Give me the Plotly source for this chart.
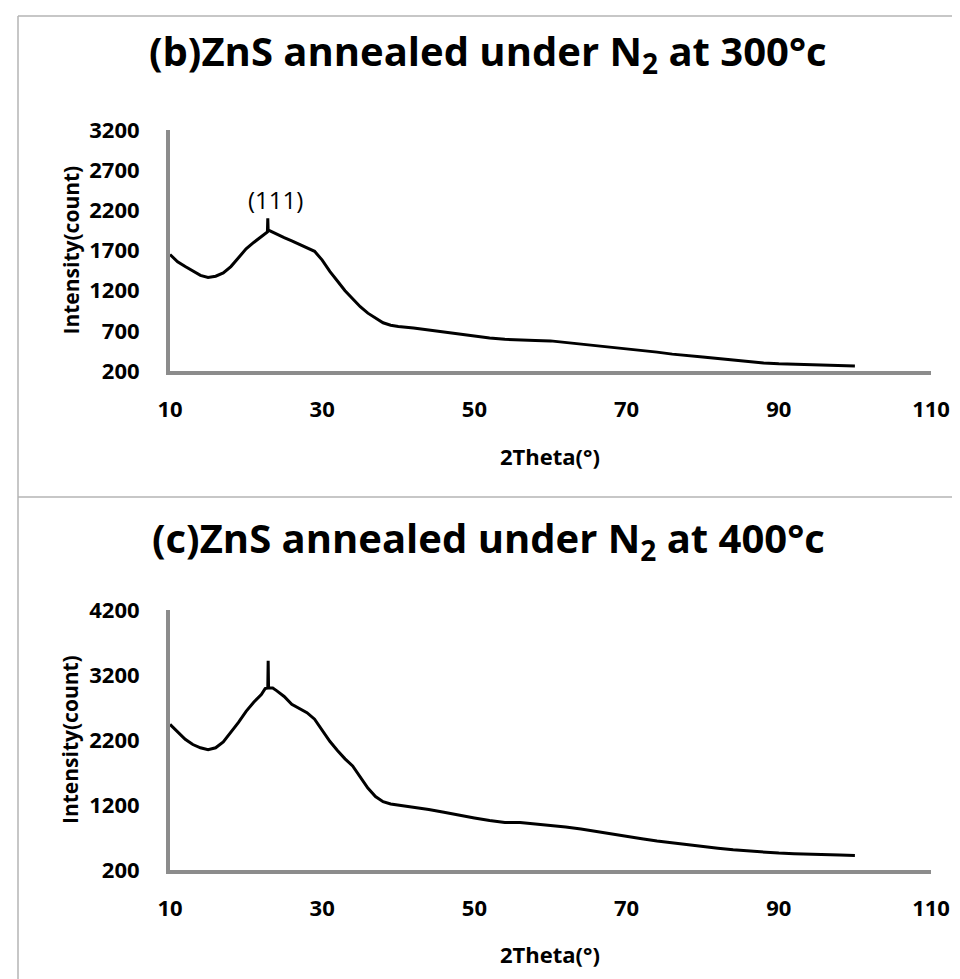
import plotly.graph_objects as go

# ---------------- data ----------------
theta_300 = [10, 11, 12, 13, 14, 15, 16, 17, 18, 19, 20, 21, 22, 22.8, 22.85, 22.9, 23,
             24, 25, 26, 27, 28, 29, 30, 31, 32, 33, 34, 35, 36, 37, 38, 39, 40,
             42, 44, 46, 48, 50, 52, 54, 56, 58, 60, 62, 64, 66, 68, 70, 72, 74,
             76, 78, 80, 82, 84, 86, 88, 90, 92, 94, 96, 98, 100]
count_300 = [1650, 1560, 1500, 1440, 1390, 1365, 1380, 1420, 1500, 1610, 1720, 1800, 1870, 1930, 2100, 1940, 1950,
             1900, 1860, 1820, 1780, 1740, 1690, 1580, 1440, 1320, 1200, 1100, 1000, 920, 860, 800, 770, 755,
             735, 710, 685, 660, 630, 610, 595, 585, 580, 575, 555, 535, 515, 500, 480, 455, 435,
             410, 395, 375, 355, 335, 315, 300, 290, 285, 280, 275, 270, 262]

theta_400 = [10, 11, 12, 13, 14, 15, 16, 17, 18, 19, 20, 21, 22, 22.5, 22.85, 22.9, 22.95, 23.5,
             24, 25, 26, 27, 28, 29, 30, 31, 32, 33, 34, 35, 36, 37, 38, 39, 40,
             42, 44, 46, 48, 50, 52, 54, 56, 58, 60, 62, 64, 66, 68, 70, 72, 74,
             76, 78, 80, 82, 84, 86, 88, 90, 92, 94, 96, 98, 100]
count_400 = [2440, 2330, 2210, 2130, 2080, 2050, 2080, 2170, 2320, 2470, 2640, 2780, 2900, 2990, 3000, 3420, 3000, 3000,
             2960, 2870, 2750, 2680, 2620, 2520, 2340, 2180, 2040, 1910, 1800, 1620, 1460, 1330, 1250, 1215, 1200,
             1170, 1130, 1090, 1040, 1000, 960, 930, 930, 910, 890, 860, 830, 790, 760, 720, 680, 645,
             615, 590, 560, 535, 510, 490, 475, 460, 450, 440, 435, 430, 425]

x_ticks = [10, 30, 50, 70, 90, 110]
y_ticks_300 = [200, 700, 1200, 1700, 2200, 2700, 3200]
y_ticks_400 = [200, 1200, 2200, 3200, 4200]

title_300 = "(b)ZnS annealed under N<sub>2</sub> at 300°c"
title_400 = "(c)ZnS annealed under N<sub>2</sub> at 400°c"
x_title = "2Theta(°)"
y_title = "Intensity(count)"
peak_label = "(111)"
peak_pos = (23.8, 2330)

# ---------------- layout helpers ----------------
W, H = 960, 979
FONT = "Open Sans"
AXIS_GRAY = "#8c8c8c"
BORDER_GRAY = "#b4b4b4"


def px_x(p):
    return p / W


def px_y(p):
    return 1 - p / H


fig = go.Figure()
fig.add_trace(go.Scatter(x=theta_300, y=count_300, mode="lines",
                         line=dict(color="black", width=3), xaxis="x", yaxis="y",
                         showlegend=False, hoverinfo="skip"))
fig.add_trace(go.Scatter(x=theta_400, y=count_400, mode="lines",
                         line=dict(color="black", width=3), xaxis="x2", yaxis="y2",
                         showlegend=False, hoverinfo="skip"))

x_left, x_right = 162, 923
axis_common = dict(showgrid=False, zeroline=False, showline=True, linecolor=AXIS_GRAY,
                   linewidth=4, ticks="", fixedrange=True)
tickfont = dict(family=FONT, size=22, color="black", weight="bold")

fig.update_layout(
    width=W, height=H,
    margin=dict(l=0, r=0, t=0, b=0, autoexpand=False),
    paper_bgcolor="white", plot_bgcolor="white",
    xaxis=dict(domain=[px_x(x_left), px_x(x_right)], range=[10, 110], tickvals=x_ticks,
               anchor="y", tickfont=tickfont, ticklabelstandoff=16, **axis_common),
    yaxis=dict(domain=[px_y(363), px_y(122)], range=[200, 3200], tickvals=y_ticks_300,
               anchor="x", tickfont=tickfont, ticklabelstandoff=22, **axis_common),
    xaxis2=dict(domain=[px_x(x_left), px_x(x_right)], range=[10, 110], tickvals=x_ticks,
                anchor="y2", tickfont=tickfont, ticklabelstandoff=16, **axis_common),
    yaxis2=dict(domain=[px_y(862), px_y(602)], range=[200, 4200], tickvals=y_ticks_400,
                anchor="x2", tickfont=tickfont, ticklabelstandoff=22, **axis_common),
)

ann = []
for title, ty, xy_mid, xt_y in [(title_300, 44, (122 + 363) / 2, 448),
                                (title_400, 531, (602 + 862) / 2, 946)]:
    ann.append(dict(text="<b>" + title + "</b>", x=px_x(480), y=px_y(ty), xref="paper", yref="paper",
                    xanchor="center", yanchor="middle", showarrow=False,
                    font=dict(family=FONT, size=40, color="black")))
    ann.append(dict(text="<b>" + y_title + "</b>", x=px_x(62), y=px_y(xy_mid), xref="paper", yref="paper",
                    xanchor="center", yanchor="middle", showarrow=False, textangle=-90,
                    font=dict(family=FONT, size=21, color="black")))
    ann.append(dict(text="<b>" + x_title + "</b>", x=px_x(542), y=px_y(xt_y), xref="paper", yref="paper",
                    xanchor="center", yanchor="middle", showarrow=False,
                    font=dict(family=FONT, size=22, color="black")))

ann.append(dict(text=peak_label, x=peak_pos[0], y=peak_pos[1], xref="x", yref="y",
                xanchor="center", yanchor="middle", showarrow=False,
                font=dict(family=FONT, size=24, color="black")))
fig.update_layout(annotations=ann)

# chart borders
shapes = [
    dict(type="line", xref="paper", yref="paper", x0=px_x(10), x1=px_x(10), y0=px_y(8), y1=px_y(H),
         line=dict(color=BORDER_GRAY, width=1.5)),
    dict(type="line", xref="paper", yref="paper", x0=px_x(10), x1=1, y0=px_y(8), y1=px_y(8),
         line=dict(color=BORDER_GRAY, width=1.5)),
    dict(type="line", xref="paper", yref="paper", x0=px_x(10), x1=1, y0=px_y(489), y1=px_y(489),
         line=dict(color=BORDER_GRAY, width=1.5)),
]
fig.update_layout(shapes=shapes)

fig.write_html("out.html")
